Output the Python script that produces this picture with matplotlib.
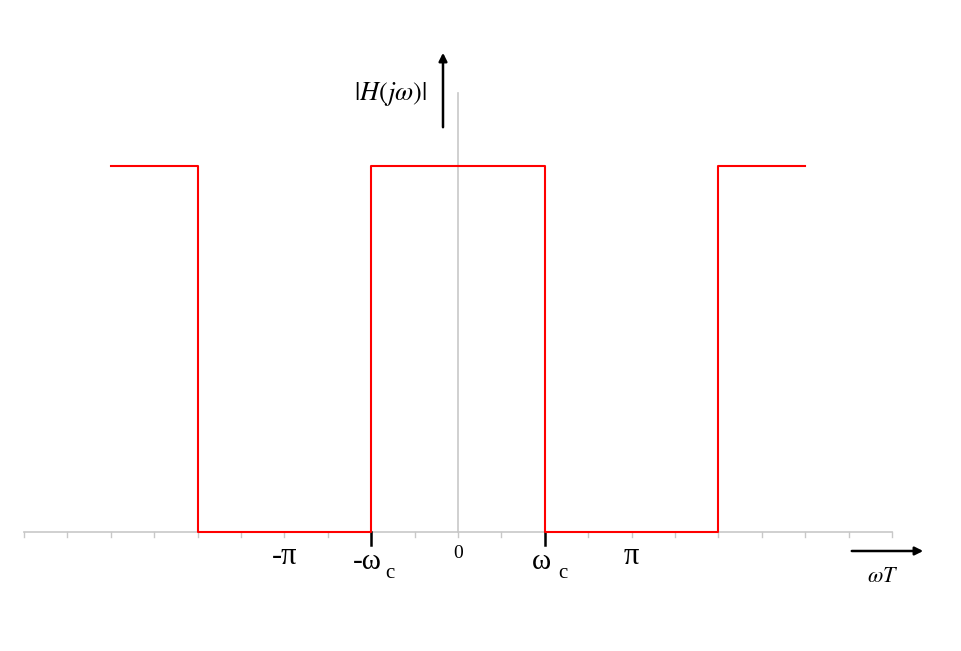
import matplotlib
matplotlib.use("Agg")
import matplotlib.pyplot as plt

# step response of the ideal low-pass filter, in units of the tick spacing
edges = [-8, -6, -2, 2, 6, 8]
levels = [1, 0, 1, 0, 1]
tick_pos = list(range(-10, 11))

plt.rcParams["mathtext.fontset"] = "stix"

fig = plt.figure(figsize=(9.61, 6.51), dpi=100)
ax = fig.add_axes([0, 0, 1, 1])
ax.set_xlim(-458 / 43.4, (961 - 458) / 43.4)
ax.set_ylim((532 - 651) / 366, 532 / 366)
ax.axis("off")

# gray axes
ax.plot([tick_pos[0], tick_pos[-1]], [0, 0], color="#c8c8c8", lw=1.2, zorder=1)
ax.plot([0, 0], [0, (532 - 93) / 366], color="#c8c8c8", lw=1.2, zorder=1)
for t in tick_pos:
    ax.plot([t, t], [0, -5 / 366], color="#c8c8c8", lw=1.0, zorder=1)

# red magnitude curve
xs, ys = [], []
for i, lv in enumerate(levels):
    xs += [edges[i], edges[i + 1]]
    ys += [lv, lv]
ax.plot(xs, ys, color="#ff0000", lw=1.5, zorder=3)

# black ticks at +/- omega_c
for t in (-2, 2):
    ax.plot([t, t], [0, -13 / 366], color="black", lw=1.8, zorder=2)

# labels
serif = ["Liberation Serif", "DejaVu Serif"]
ax.text(-4, -24 / 366, "-π", fontsize=22, family=serif, ha="center", va="center")
ax.text(4, -24 / 366, "π", fontsize=22, family=serif, ha="center", va="center")
ax.text(0, -22 / 366, "0", fontsize=14, family=serif, ha="center", va="center")
ax.text(-2.1, -30 / 366, "-ω", fontsize=21, family=serif, ha="center", va="center")
ax.text(-1.58, -42 / 366, "c", fontsize=15, family=serif, ha="center", va="center")
ax.text(1.92, -30 / 366, "ω", fontsize=21, family=serif, ha="center", va="center")
ax.text(2.42, -42 / 366, "c", fontsize=15, family=serif, ha="center", va="center")

# axis arrows and names
ax.annotate("", xy=((443 - 458) / 43.4, (532 - 50) / 366),
            xytext=((443 - 458) / 43.4, (532 - 130) / 366),
            arrowprops=dict(arrowstyle="-|>", color="black", lw=1.8, mutation_scale=12))
ax.annotate("", xy=((926 - 458) / 43.4, (532 - 551) / 366),
            xytext=((849 - 458) / 43.4, (532 - 551) / 366),
            arrowprops=dict(arrowstyle="-|>", color="black", lw=1.8, mutation_scale=12))
ax.text((390 - 458) / 43.4, (532 - 94) / 366, r"$|H(j\omega)|$", fontsize=19,
        ha="center", va="center")
ax.text((883 - 458) / 43.4, (532 - 576) / 366, r"$\omega T$", fontsize=16,
        ha="center", va="center")

fig.savefig("out.png", dpi=100)
